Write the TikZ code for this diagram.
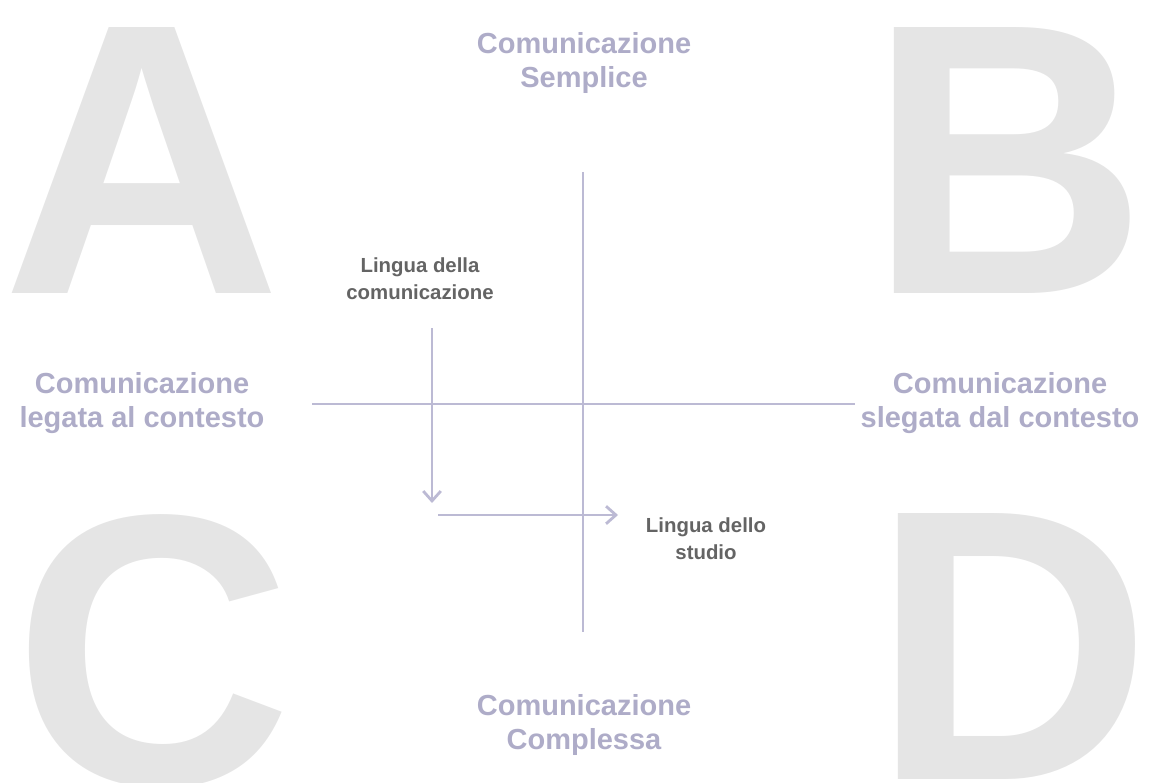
\documentclass[tikz,border=0pt]{standalone}
\usepackage{fontspec}
\usepackage{xcolor}
\usepackage{tikz}
\usetikzlibrary{arrows.meta}

\setmainfont{Liberation Sans}

\definecolor{lettergray}{RGB}{229,229,229}
\definecolor{axislilac}{RGB}{188,186,212}
\definecolor{labellilac}{RGB}{174,172,200}
\definecolor{notegray}{RGB}{100,100,100}

\begin{document}
\begin{tikzpicture}[
    every node/.style={inner sep=0pt, font=\bfseries},
    bigletter/.style={lettergray, anchor=north, font=\bfseries\fontsize{110}{110}\selectfont},
    pole/.style={labellilac, align=center, font=\bfseries\fontsize{8.25}{9.5}\selectfont},
    note/.style={notegray, align=center, font=\bfseries\fontsize{5.8}{7.6}\selectfont},
    axis/.style={axislilac, line width=0.8pt},
    path/.style={axislilac, line width=0.8pt, -{Straight Barb[length=2.8pt,width=5pt]}}
  ]
  \useasboundingbox (0,0) rectangle (11.56,7.82);
  \clip (0,0) rectangle (11.56,7.82);

  % Quadrant letters in the background
  \node[bigletter] (qa) at (1.42,7.55) {A};
  \node[bigletter] (qb) at (10.08,7.55) {B};
  \node[bigletter] (qc) at (1.53,2.68) {C};
  \node[bigletter] (qd) at (10.12,2.69) {D};

  % Ends of the two axes
  \coordinate (ytop) at (5.83,6.10);
  \coordinate (ybot) at (5.83,1.50);
  \coordinate (xleft) at (3.12,3.78);
  \coordinate (xright) at (8.55,3.78);

  \draw[axis] (ytop) -- (ybot);
  \draw[axis] (xleft) -- (xright);

  % Poles of the axes
  \node[pole] (simple) at (5.84,7.19) {Comunicazione\\Semplice};
  \node[pole] (complex) at (5.84,0.57) {Comunicazione\\Complessa};
  \node[pole] (bound) at (1.42,3.79) {Comunicazione\\legata al contesto};
  \node[pole] (free) at (10.00,3.79) {Comunicazione\\slegata dal contesto};

  % The two languages and the way from one to the other
  \node[note] (lcom) at (4.20,5.03) {Lingua della\\comunicazione};
  \node[note] (lstu) at (7.06,2.43) {Lingua dello\\studio};

  \coordinate (down0) at (4.32,4.54);
  \coordinate (down1) at (4.32,2.79);
  \coordinate (side0) at (4.38,2.67);
  \coordinate (side1) at (6.18,2.67);

  \draw[path] (down0) -- (down1);
  \draw[path] (side0) -- (side1);
\end{tikzpicture}
\end{document}
